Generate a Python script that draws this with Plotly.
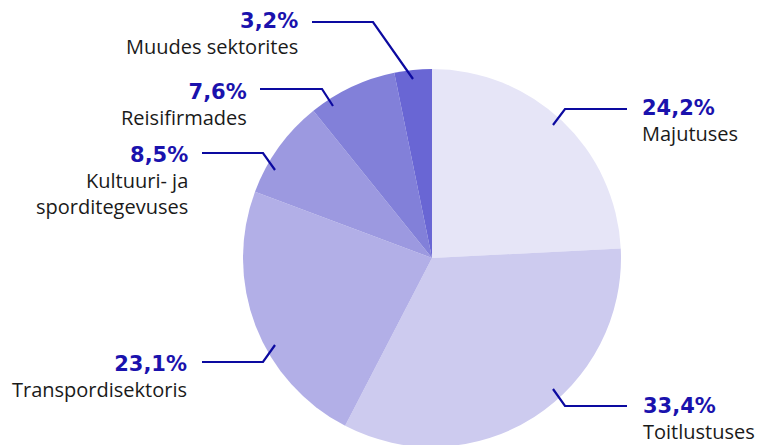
import plotly.graph_objects as go

categories = ["Majutuses", "Toitlustuses", "Transpordisektoris",
              "Kultuuri- ja<br>sporditegevuses", "Reisifirmades", "Muudes sektorites"]
values = [24.2, 33.4, 23.1, 8.5, 7.6, 3.2]
pct_labels = ["24,2%", "33,4%", "23,1%", "8,5%", "7,6%", "3,2%"]
colors = ["#e6e5f7", "#cdcbef", "#b2afe7", "#9c99e0", "#8280d9", "#6966d4"]

W, H = 767, 445
OFF = 8  # page body margin offset
BLUE = "#1a12ad"
LINE = "#0c0aa0"
FONT = "Open Sans"
PFONT = "DejaVu Sans"

CX, CY, R = 432 - OFF, 258 - OFF, 189

fig = go.Figure(go.Pie(
    labels=categories, values=values, sort=False, direction="clockwise",
    rotation=0, marker=dict(colors=colors, line=dict(width=0)),
    textinfo="none", hoverinfo="label+percent", showlegend=False,
    domain=dict(x=[(CX - R) / W, (CX + R) / W],
                y=[(H - CY - R) / H, (H - CY + R) / H]),
))

def px(x, y):
    return (x - OFF) / W, 1 - (y - OFF) / H

# label layout in screen pixels: (text x, block centre y, anchor, leader points)
label_layout = [
    (640, 122, "left", [(553, 125), (565, 109), (627, 109)]),
    (641, 419, "left", [(553, 389), (565, 406), (627, 406)]),
    (189, 377, "right", [(275, 345), (263, 362), (202, 362)]),
    (190, 181, "right", [(275, 170), (263, 153), (202, 153)]),
    (249, 105, "right", [(333, 106), (322, 89), (260, 89)]),
    (300, 35, "right", [(413, 79), (373, 22), (312, 22)]),
]

annotations = []
shapes = []
for (tx, ty, anchor, pts), pct, name in zip(label_layout, pct_labels, categories):
    x, y = px(tx, ty)
    text = ('<span style="font-family:%s;font-size:21px;color:%s"><b>%s</b></span><br>%s'
            % (PFONT, BLUE, pct, name))
    annotations.append(dict(x=x, y=y, xref="paper", yref="paper", text=text,
                            showarrow=False, xanchor=anchor, yanchor="middle",
                            align=anchor,
                            font=dict(family=FONT, size=20, color="#1a1a1a")))
    path = ""
    for i, (a, b) in enumerate(pts):
        xx, yy = px(a, b)
        path += ("M" if i == 0 else " L") + " %.5f,%.5f" % (xx, yy)
    shapes.append(dict(type="path", path=path, xref="paper", yref="paper",
                       line=dict(color=LINE, width=2.2)))

fig.update_layout(
    width=W, height=H, margin=dict(l=0, r=0, t=0, b=0),
    paper_bgcolor="white", plot_bgcolor="white",
    annotations=annotations, shapes=shapes,
)

fig.write_html("out.html")
